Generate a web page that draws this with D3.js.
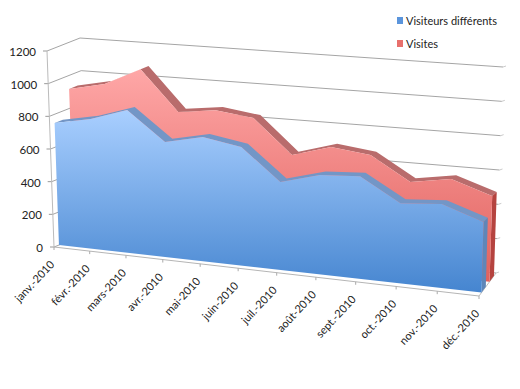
<!DOCTYPE html>
<html>
<head>
<meta charset="utf-8">
<script src="https://cdn.jsdelivr.net/npm/d3@7"></script>
<style>
    html, body { margin: 0; padding: 0; background: #fff; }
    svg { display: block; }
    text { font-family: Lato, "Open Sans", sans-serif; fill: #222; }
</style>
</head>
<body>
<div id="chart"></div>
<script>
var months = ["janv.-2010", "févr.-2010", "mars-2010", "avr.-2010", "mai-2010", "juin-2010",
    "juil.-2010", "août-2010", "sept.-2010", "oct.-2010", "nov.-2010", "déc.-2010"];
var visiteurs = [747, 787, 856, 682, 728, 687, 503, 562, 574, 443, 458, 381];
var visites = [918, 963, 1068, 826, 853, 822, 622, 687, 659, 523, 559, 482];
var valueTicks = [0, 200, 400, 600, 800, 1000, 1200];
var legendNames = ["Visiteurs différents", "Visites"];

var width = 520, height = 389;

var svg = d3.select("#chart").append("svg")
    .attr("width", width)
    .attr("height", height);

// the box corners on screen, the 3d look is only a blend of these
var box = {
    bottomFront: [[54, 247], [479, 296]],
    bottomBack: [[87, 234], [496, 273]],
    topFront: [[47, 51], [485, 71]],
    topBack: [[80, 38], [503, 67]]
};

var xScale = d3.scaleLinear().domain([0, months.length - 1]).range([0, 1]);
var yScale = d3.scaleLinear().domain([0, 1200]).range([0, 1]);

// months get slightly wider to the right
function persp(m) {
    var s = xScale(m);
    return s / (s + (1 - s) * 1.09);
}

function edge(pair, t) {
    return d3.interpolateArray(pair[0], pair[1])(t);
}

function project(m, v, z) {
    var t = persp(m);
    var bottom = d3.interpolateArray(edge(box.bottomFront, t), edge(box.bottomBack, t))(z);
    var top = d3.interpolateArray(edge(box.topFront, t), edge(box.topBack, t))(z);
    return d3.interpolateArray(bottom, top)(yScale(v));
}

var path = d3.line();

function gradient(id, y1, y2, c1, c2) {
    var g = svg.append("defs").append("linearGradient")
        .attr("id", id)
        .attr("gradientUnits", "userSpaceOnUse")
        .attr("x1", 0).attr("x2", 0)
        .attr("y1", y1).attr("y2", y2);
    g.append("stop").attr("offset", 0).attr("stop-color", c1);
    g.append("stop").attr("offset", 1).attr("stop-color", c2);
}
gradient("blueFill", 110, 295, "#a9cfff", "#4484cf");
gradient("redFill", 66, 285, "#ffa8a8", "#e0605c");

function gridLine(a, b, color) {
    svg.append("line")
        .attr("x1", a[0]).attr("y1", a[1])
        .attr("x2", b[0]).attr("y2", b[1])
        .attr("stroke", color || "#a5a5a5")
        .attr("stroke-width", 1);
}

// walls
valueTicks.forEach(v => {
    gridLine(project(0, v, 1), project(11, v, 1));
    gridLine(project(0, v, 0), project(0, v, 1));
    gridLine(project(11, v, 1), [project(11, v, 1)[0] + 3, project(11, v, 1)[1] - 1], "#ccc");
    gridLine(project(0, v, 0), [project(0, v, 0)[0] - 4, project(0, v, 0)[1]], "#999");
});
gridLine(project(0, 0, 0), project(0, 1200, 0), "#bbb");
gridLine(project(11, 0, 0), project(11, 0, 1), "#bbb");

function drawSeries(values, z1, z2, fill, band, side) {
    var g = svg.append("g");
    var front = values.map((v, i) => project(i, v, z1));
    var back = values.map((v, i) => project(i, v, z2));
    var last = values.length - 1;

    g.append("path")
        .attr("d", path(front.concat(back.slice().reverse())) + "Z")
        .attr("fill", band);

    g.append("path")
        .attr("d", path([front[last], back[last], project(last, 0, z2), project(last, 0, z1)]) + "Z")
        .attr("fill", side);

    g.append("path")
        .attr("d", path(front.concat([project(last, 0, z1), project(0, 0, z1)])) + "Z")
        .attr("fill", fill);
}

drawSeries(visites, 0.62, 0.88, "url(#redFill)", "#b96c6c", "#b5433f");
drawSeries(visiteurs, 0.15, 0.4, "url(#blueFill)", "#7396c6", "#5f86b8");

// floor edge in front
gridLine(project(0, 0, 0), project(11, 0, 0), "#b5b5b5");

months.forEach((m, i) => {
    var p = project(i, 0, 0);
    gridLine(p, [p[0], p[1] + 3], "#aaa");
    svg.append("text")
        .attr("transform", `translate(${p[0] + 1},${p[1] + 18}) rotate(-47)`)
        .attr("text-anchor", "end")
        .attr("font-size", 11)
        .text(m);
});

valueTicks.forEach(v => {
    var p = project(0, v, 0);
    svg.append("text")
        .attr("x", p[0] - 11)
        .attr("y", p[1] + 5)
        .attr("text-anchor", "end")
        .attr("font-size", 11.5)
        .text(v);
});

// legend
var legendColors = ["#5b95dc", "#e8706c"];
legendNames.forEach((name, i) => {
    var ly = 21 + i * 23;
    svg.append("rect")
        .attr("x", 397).attr("y", ly - 4)
        .attr("width", 6).attr("height", 7)
        .attr("fill", legendColors[i]);
    svg.append("text")
        .attr("x", 406).attr("y", ly + 4)
        .attr("font-size", 11)
        .text(name);
});
</script>
</body>
</html>
